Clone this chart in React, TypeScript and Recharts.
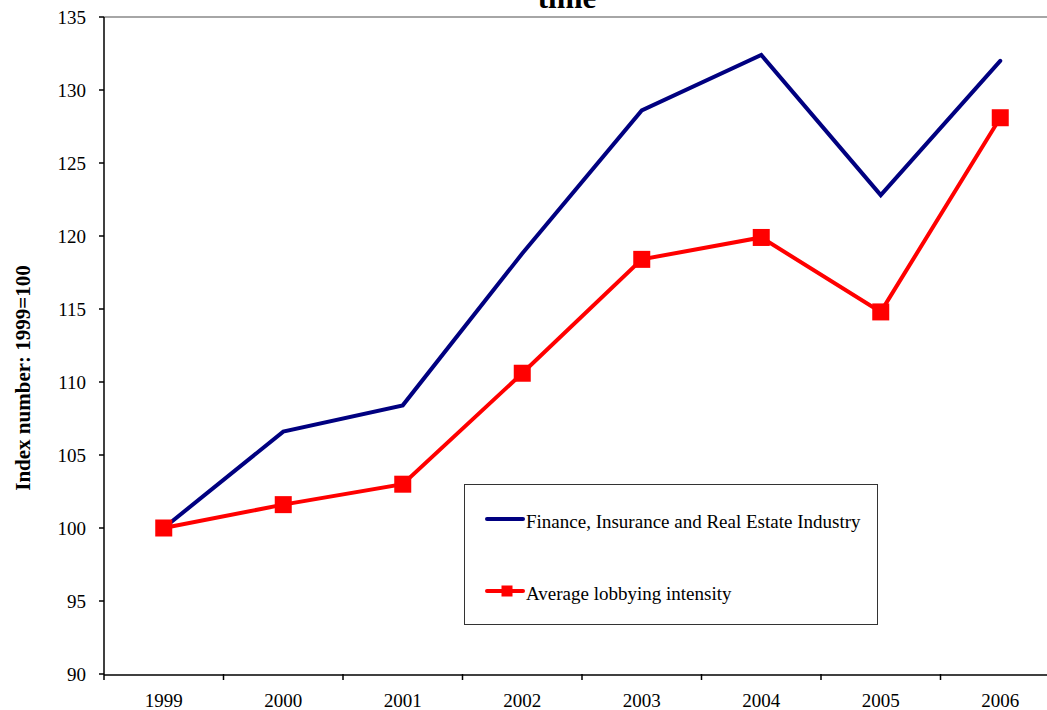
import React from 'react';
import { LineChart, Line, XAxis, YAxis, ReferenceLine, Legend } from 'recharts';

const years = ['1999', '2000', '2001', '2002', '2003', '2004', '2005', '2006'];
const financeIndex = [100, 106.6, 108.4, 118.8, 128.6, 132.4, 122.8, 132.0];
const lobbyingIndex = [100, 101.6, 103.0, 110.6, 118.4, 119.9, 114.8, 128.1];
const yTicks = [90, 95, 100, 105, 110, 115, 120, 125, 130, 135];
const edgeTicks = [0, 1, 2, 3, 4, 5, 6, 7, 8];

const seriesOrder = ['finance', 'lobbying'];
const seriesNames = {
  finance: 'Finance, Insurance and Real Estate Industry',
  lobbying: 'Average lobbying intensity',
};

const data = years.map((year, i) => ({
  year,
  slot: i + 0.5,
  finance: financeIndex[i],
  lobbying: lobbyingIndex[i],
}));

const FONT = '"Liberation Serif", "Times New Roman", serif';

const SquareDot = (props: any) => {
  const { cx, cy } = props;
  if (cx == null || cy == null) return null;
  return <rect x={cx - 8.5} y={cy - 8.5} width={17} height={17} fill="#FF0000" />;
};

const LegendContent = (props: any) => {
  const payload = [...(props.payload || [])].sort(
    (a: any, b: any) => seriesOrder.indexOf(a.dataKey) - seriesOrder.indexOf(b.dataKey)
  );
  return (
    <div
      style={{
        width: 414,
        height: 141,
        border: '1px solid #333',
        background: '#fff',
        boxSizing: 'border-box',
      }}
    >
      <svg width={412} height={139} style={{ display: 'block' }}>
        {payload.map((entry: any, i: number) => {
          const y = i === 0 ? 34 : 106;
          const isSquare = entry.dataKey === 'lobbying';
          return (
            <g key={i}>
              <line x1={22} x2={58} y1={y} y2={y} stroke={entry.color} strokeWidth={4} strokeLinecap="round" />
              {isSquare && <rect x={36.5} y={y - 5.5} width={11} height={11} fill={entry.color} />}
              <text x={61} y={y + 9} fontFamily={FONT} fontSize={19} fill="#000">
                {entry.value}
              </text>
            </g>
          );
        })}
      </svg>
    </div>
  );
};

const YLabel = () => (
  <text
    x={30}
    y={378}
    transform="rotate(-90, 30, 378)"
    textAnchor="middle"
    fontFamily={FONT}
    fontWeight="bold"
    fontSize={21}
    fill="#000"
  >
    Index number: 1999=100
  </text>
);

export default function App() {
  return (
    <div
      style={{
        position: 'fixed',
        left: 0,
        top: 0,
        width: 1047,
        height: 710,
        overflow: 'hidden',
        background: '#fff',
        fontFamily: FONT,
      }}
    >
      <svg width={1047} height={30} style={{ position: 'absolute', left: 0, top: 0, zIndex: 2 }}>
        <text x={567} y={8} textAnchor="middle" fontFamily={FONT} fontWeight="bold" fontSize={31} fill="#000">
          time
        </text>
      </svg>
      <LineChart
        width={1080}
        height={710}
        data={data}
        margin={{ top: 17, right: 20, bottom: 0, left: 0 }}
      >
        <XAxis
          xAxisId="a"
          dataKey="slot"
          type="number"
          domain={[0, 8]}
          ticks={edgeTicks}
          allowDataOverflow
          tickFormatter={() => ''}
          tick={{ fontSize: 1 }}
          tickLine={{ stroke: '#000', strokeWidth: 1.5 }}
          tickSize={6}
          axisLine={false}
          height={1}
          interval={0}
        />
        <XAxis
          xAxisId="b"
          dataKey="year"
          scale="band"
          tickLine={false}
          axisLine={{ stroke: '#000', strokeWidth: 1.5 }}
          tick={{ fill: '#000', fontSize: 19, fontFamily: FONT }}
          tickMargin={13}
          height={35}
          interval={0}
        />
        <YAxis
          domain={[90, 135]}
          ticks={yTicks}
          allowDataOverflow
          width={104}
          tickSize={5}
          tickMargin={13}
          tickLine={{ stroke: '#000', strokeWidth: 1.5 }}
          axisLine={{ stroke: '#000', strokeWidth: 1.5 }}
          tick={{ fill: '#000', fontSize: 19, fontFamily: FONT }}
          label={<YLabel />}
        />
        <ReferenceLine xAxisId="b" y={135} stroke="#a6a6a6" strokeWidth={2} />
        <Line
          xAxisId="b"
          type="linear"
          dataKey="finance"
          name={seriesNames.finance}
          stroke="#000080"
          strokeWidth={4}
          strokeLinecap="round"
          dot={false}
          activeDot={false}
          isAnimationActive={false}
        />
        <Line
          xAxisId="b"
          type="linear"
          dataKey="lobbying"
          name={seriesNames.lobbying}
          stroke="#FF0000"
          strokeWidth={4}
          dot={<SquareDot />}
          activeDot={false}
          isAnimationActive={false}
        />
        <Legend
          layout="vertical"
          align="center"
          verticalAlign="middle"
          content={<LegendContent />}
          wrapperStyle={{ position: 'absolute', left: 464, top: 484, width: 414, height: 141, margin: 0 }}
        />
      </LineChart>
    </div>
  );
}
